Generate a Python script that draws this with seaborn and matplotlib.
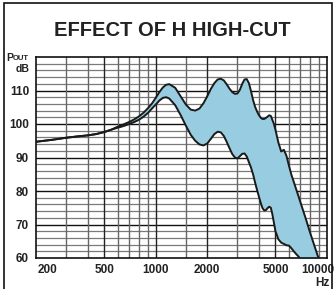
import numpy as np
import pandas as pd
import seaborn as sns
import matplotlib.pyplot as plt
from matplotlib.patches import Rectangle
import matplotlib.transforms as mtransforms

# frequency grid (Hz) and the two response curves (dB)
freq = [200, 250, 300, 350, 400, 450, 500, 550, 600, 650, 700, 750, 800, 850, 900, 950,
        1000, 1050, 1100, 1150, 1200, 1300, 1400, 1500, 1600, 1700, 1800, 1900,
        2000, 2100, 2200, 2300, 2400, 2500, 2600, 2700, 2800, 2900, 3000, 3100,
        3200, 3300, 3400, 3500, 3600, 3700, 3800, 3900, 4000, 4100, 4200, 4300,
        4400, 4500, 4600, 4700, 4800, 4900, 5000, 5200, 5400, 5600, 5800, 6000,
        6200, 6400, 6600, 6800, 7000, 7500, 8000, 8500, 9000, 9500]
no_cut = [94.7, 95.3, 95.9, 96.3, 96.6, 97.0, 97.6, 98.3, 99.2, 99.9, 100.6, 101.4, 102.3, 103.4, 104.7, 106.1,
          107.8, 109.5, 110.9, 111.7, 111.9, 110.8, 108.2, 105.8, 104.3, 104.0, 104.6, 106.2,
          108.3, 110.5, 112.2, 113.3, 113.5, 113.0, 111.8, 110.5, 109.5, 109.0, 109.1, 110.2,
          112.0, 113.3, 113.4, 112.2, 109.8, 107.2, 105.2, 103.8, 102.7, 101.9, 101.5, 101.5,
          101.8, 102.2, 102.6, 102.4, 101.2, 100.0, 98.3, 94.5, 91.8, 92.3, 90.5, 87.5,
          84.8, 82.7, 80.6, 78.6, 76.6, 71.9, 67.3, 63.2, 59.4, 56.5]
high_cut = [94.7, 95.3, 95.9, 96.3, 96.6, 97.0, 97.6, 98.3, 98.9, 99.4, 100.0, 100.6, 101.3, 102.2, 103.3, 104.6,
            105.8, 107.0, 107.8, 108.0, 107.6, 105.6, 102.6, 99.5, 96.8, 95.0, 93.9, 93.6,
            94.2, 95.6, 97.0, 97.7, 97.5, 96.4, 94.6, 92.7, 91.0, 90.0, 89.7, 90.4,
            91.1, 91.2, 90.3, 88.6, 87.0, 85.0, 82.6, 80.4, 78.4, 76.5, 74.9, 74.2,
            74.3, 74.9, 75.3, 75.0, 73.0, 70.5, 68.0, 65.6, 64.6, 64.2, 63.8, 63.7,
            62.9, 62.0, 61.2, 60.5, 59.7, 57.0, 54.5, 52.0, 50.0, 48.0]

ytick_vals = [60, 70, 80, 90, 100, 110]
xtick_vals = [200, 500, 1000, 2000, 5000, 10000]
xtick_labels = ["200", "500", "1000", "2000", "5000", "10000"]
vgrid = [300, 400, 500, 600, 700, 800, 900, 1000, 1500, 2000, 3000, 4000,
         5000, 6000, 7000, 8000, 9000]

df = pd.DataFrame({"freq": freq, "no_cut": no_cut, "high_cut": high_cut})

sns.set_style("white")
plt.rcParams["font.family"] = ["Liberation Sans", "DejaVu Sans"]

fig = plt.figure(figsize=(3.35, 2.89), dpi=100)
ax = fig.add_axes([36 / 335, 31 / 289, 291 / 335, 201 / 289])

ax.fill_between(df["freq"], df["high_cut"], df["no_cut"], color="#98cde1", lw=0, zorder=2)
sns.lineplot(data=df, x="freq", y="no_cut", color="#1a1a1a", lw=1.4, ax=ax, zorder=3)
sns.lineplot(data=df, x="freq", y="high_cut", color="#1a1a1a", lw=1.4, ax=ax, zorder=3)

ax.set_xscale("log")
ax.set_xlim(200, 10000)
ax.set_ylim(60, 120)

# grid
for y in range(62, 120, 2):
    major = y % 10 == 0
    ax.axhline(y, color="#111111" if major else "#7a7a7a", lw=1.0 if major else 0.9, zorder=1)
for x in vgrid:
    major = x in (500, 1000, 2000, 5000)
    ax.axvline(x, color="#222222" if major else "#666666", lw=1.0, zorder=1)

for s in ax.spines.values():
    s.set_color("#111111")
    s.set_linewidth(1.2)

ax.set_xticks([])
ax.set_yticks(ytick_vals)
ax.set_yticklabels([str(v) for v in ytick_vals], fontsize=8.5, fontweight="bold", color="#222222")
ax.tick_params(axis="y", length=0, pad=5)
ax.minorticks_off()
ax.set_xlabel("")
ax.set_ylabel("")

trans = mtransforms.blended_transform_factory(ax.transData, ax.transAxes)
for v, lab in zip(xtick_vals, xtick_labels):
    ha = "center"
    t = trans
    if v == 200:
        ha = "left"
        t = mtransforms.offset_copy(trans, fig=fig, x=2, y=0, units="dots")
    if v == 10000:
        ha = "right"
        t = mtransforms.offset_copy(trans, fig=fig, x=7, y=0, units="dots")
    ax.text(v, -0.06, lab, transform=t, ha=ha, va="center", fontsize=8.5,
            fontweight="bold", color="#222222")

fig.text(330 / 335, 1 - 283 / 289, "Hz", ha="right", va="center", fontsize=8.5,
         fontweight="bold", color="#222222")
fig.text(6 / 335, 1 - 58 / 289, "P", ha="left", va="center", fontsize=7.5,
         fontweight="bold", color="#222222")
fig.text(13 / 335, 1 - 58.5 / 289, "OUT", ha="left", va="center", fontsize=5.5,
         fontweight="bold", color="#222222")
fig.text(30 / 335, 1 - 69 / 289, "dB", ha="right", va="center", fontsize=7.5,
         fontweight="bold", color="#222222")

fig.text(172 / 335, 1 - 30 / 289, "EFFECT OF H HIGH-CUT", ha="center", va="center",
         fontsize=14.5, fontweight="bold", color="#222222")

fig.patches.append(Rectangle((4 / 335, -0.02), 328 / 335, 1.0 - 3 / 289 + 0.02,
                             transform=fig.transFigure, fill=False, ec="#111111", lw=1.2))

fig.savefig("out.png", dpi=100)
